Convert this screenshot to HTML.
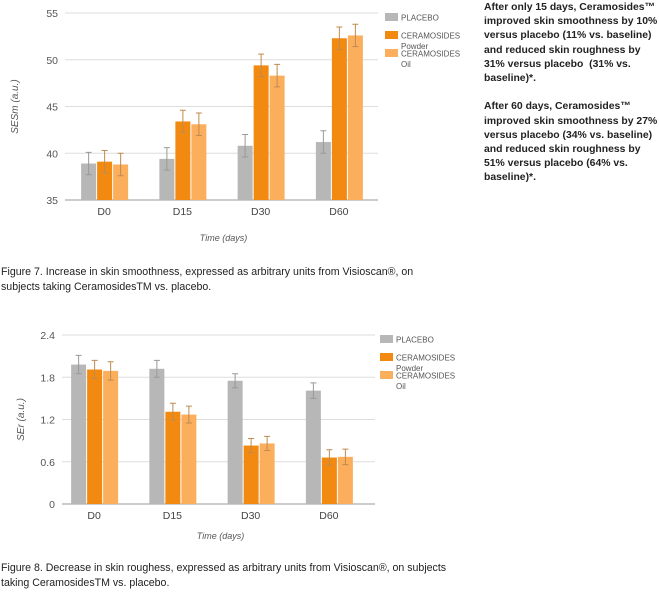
<!DOCTYPE html>
<html><head><meta charset="utf-8"><style>
body{margin:0;width:659px;height:605px;background:#fff;position:relative;overflow:hidden;font-family:"Liberation Sans",sans-serif}
.cap{position:absolute;left:1px;font-size:10.6px;line-height:15px;color:#222;}
.side{position:absolute;left:484px;top:1px;font-size:10.4px;line-height:14.2px;font-weight:bold;color:#222;white-space:nowrap}
svg{position:absolute;left:0;top:0}
</style></head><body>
<svg id="c1" width="480" height="250" style="top:0"></svg>
<svg id="c2" width="480" height="250" style="top:320px"></svg>
<div class="side">After only 15 days, Ceramosides™<br>improved skin smoothness by 10%<br>versus placebo (11% vs. baseline)<br>and reduced skin roughness by<br>31% versus placebo&nbsp; (31% vs.<br>baseline)*.<br><br>After 60 days, Ceramosides™<br>improved skin smoothness by 27%<br>versus placebo (34% vs. baseline)<br>and reduced skin roughness by<br>51% versus placebo (64% vs.<br>baseline)*.</div>
<div class="cap" style="top:265px">Figure 7. Increase in skin smoothness, expressed as arbitrary units from Visioscan®, on<br>subjects taking CeramosidesTM vs. placebo.</div>
<div class="cap" style="top:561px">Figure 8. Decrease in skin roughess, expressed as arbitrary units from Visioscan®, on subjects<br>taking CeramosidesTM vs. placebo.</div>
<script>
const categories=["D0","D15","D30","D60"];
const seriesNames=["PLACEBO","CERAMOSIDES","CERAMOSIDES"];
const seriesSub=["","Powder","Oil"];
const colors=["#b7b7b7","#f28a12","#fbae5c"];
const smoothPlacebo=[38.9,39.4,40.8,41.2];
const smoothPowder=[39.1,43.4,49.4,52.3];
const smoothOil=[38.8,43.1,48.3,52.6];
const smoothErr=[1.2,1.2,1.2,1.2];
const smoothTicks=[35,40,45,50,55];
const roughPlacebo=[1.98,1.92,1.75,1.61];
const roughPowder=[1.91,1.31,0.83,0.66];
const roughOil=[1.89,1.27,0.86,0.67];
const roughErr=[0.13,0.12,0.1,0.11];
const roughTicks=["0","0.6","1.2","1.8","2.4"];
const NS="http://www.w3.org/2000/svg";
function mk(svg,t,a,txt){const e=document.createElementNS(NS,t);for(const k in a)e.setAttribute(k,a[k]);if(txt!==undefined)e.textContent=txt;svg.appendChild(e);return e;}
function draw(id,series,errs,ticks,ymin,ymax,o){
 const svg=document.getElementById(id);
 const y=v=>o.y0-(v-ymin)/(ymax-ymin)*(o.y0-o.y1);
 const band=(o.x1-o.x0)/categories.length;
 const cx=i=>o.x0+band*(i+0.5)+o.shift;
 ticks.forEach(t=>{const v=parseFloat(t);
  const g=mk(svg,"line",{x1:o.x0,x2:o.x1,y1:y(v),y2:y(v),stroke:v===ymin?"#999":"#ddd","stroke-width":1});
  
  const l=mk(svg,"text",{x:o.x0-7,y:y(v)+4,"text-anchor":"end","font-size":"10.5",fill:"#555"},String(t));
  });
 categories.forEach((c,i)=>{
  series.forEach((s,j)=>{const x=cx(i)-23+j*16;
   const b=mk(svg,"rect",{x:x,y:y(s[i]),width:15,height:o.y0-y(s[i]),fill:colors[j]});
   
   const ec=j===0?"#999":"#c08a50";const xm=x+7.5,e=errs[i];
   const el=mk(svg,"path",{d:`M${xm} ${y(s[i]+e)}V${y(s[i]-e)}M${xm-3} ${y(s[i]+e)}h6M${xm-3} ${y(s[i]-e)}h6`,stroke:ec,"stroke-width":1,fill:"none"});
   });
  const t=mk(svg,"text",{x:cx(i),y:o.y0+15,"text-anchor":"middle","font-size":"10.5",fill:"#444"},c);
  });
 const yt=mk(svg,"text",{transform:`translate(${o.ytx},${(o.y0+o.y1)/2}) rotate(-90)`,"text-anchor":"middle","font-size":"10","font-style":"italic",fill:"#555"},o.ytitle);
 
 const xt=mk(svg,"text",{x:(o.x0+o.x1)/2+2,y:o.xty,"text-anchor":"middle","font-size":"9","font-style":"italic",fill:"#555"},"Time (days)");
 
 seriesNames.forEach((n,j)=>{const ly=o.ly+j*18;
  const r=mk(svg,"rect",{x:o.lx,y:ly,width:13,height:8,fill:colors[j]});
  
  const t=mk(svg,"text",{x:o.lx+16,y:ly+7.5,"font-size":"8",fill:"#555"},n);
  
  if(seriesSub[j]){const s=mk(svg,"text",{x:o.lx+16,y:ly+18,"font-size":"8",fill:"#555"},seriesSub[j]);
   }});
}
draw("c1",[smoothPlacebo,smoothPowder,smoothOil],smoothErr,smoothTicks,35,55,
 {x0:65,x1:378,y0:200,y1:13,shift:0,ytx:18,ytitle:"SESm (a.u.)",xty:241,lx:385,ly:13});
draw("c2",[roughPlacebo,roughPowder,roughOil],roughErr,roughTicks,0,2.4,
 {x0:62,x1:375,y0:184,y1:15,shift:-7,ytx:24,ytitle:"SEr (a.u.)",xty:219,lx:380,ly:15});
</script>
</body></html>
